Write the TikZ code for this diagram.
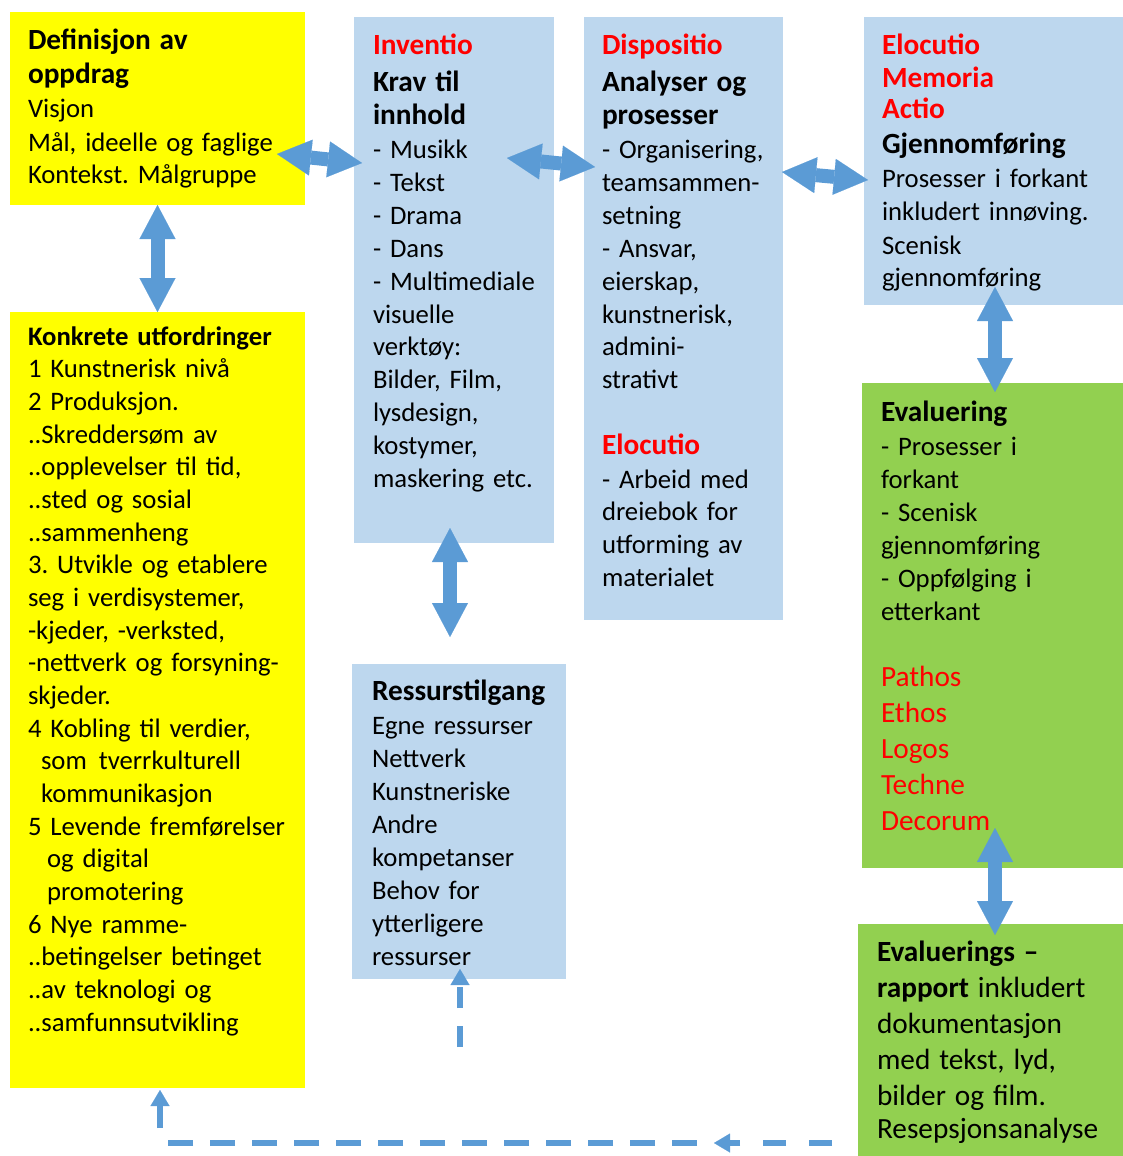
\documentclass[tikz,border=0pt]{standalone}
\usepackage{fontspec}
\setmainfont{Carlito}[WordSpace=0.85]
\usetikzlibrary{arrows.meta,calc}
\frenchspacing

\definecolor{yel}{HTML}{FFFF00}
\definecolor{lblue}{HTML}{BDD7EE}
\definecolor{lgreen}{HTML}{92D050}
\definecolor{redc}{HTML}{FF0000}
\definecolor{arrowblue}{HTML}{5B9BD5}

% line spacing used by every font switch inside a text block
\newcommand\lsk{33pt}
\newcommand\bxfont{\fontsize{26.7pt}{\lsk}\selectfont\mdseries}
\newcommand\hdsize{\fontsize{29.3pt}{\lsk}\selectfont\mdseries}
\newcommand\hdfont{\hdsize\bfseries}
\newcommand\rd[1]{{\color{redc}#1}}

\tikzset{
  boxbase/.style={inner sep=0pt, outer sep=0pt, anchor=north west},
  ybox/.style={boxbase, fill=yel},
  bbox/.style={boxbase, fill=lblue},
  gbox/.style={boxbase, fill=lgreen},
  txt/.style={inner sep=0pt, outer sep=0pt, anchor=base west, align=left, font=\bxfont},
  dblarrow/.style={draw=arrowblue, line width=14pt,
    arrows={Triangle[length=34pt,width=36pt,line width=0.1pt]-Triangle[length=34pt,width=36pt,line width=0.1pt]}},
  dashline/.style={draw=arrowblue, line width=5.5pt, dash pattern=on 25pt off 17pt},
  dasharrow/.style={dashline, arrows={-Triangle[length=16pt,width=19pt,line width=0.1pt]}},
}

\begin{document}
\begin{tikzpicture}[x=1pt,y=-1pt]
\useasboundingbox (0,0) rectangle (1123,1156);

% ---- boxes ----
\node[ybox, minimum width=295pt, minimum height=193pt] (def)  at (10,12)  {};
\node[ybox, minimum width=295pt, minimum height=776pt] (konk) at (10,312) {};
\node[bbox, minimum width=200pt, minimum height=526pt] (inv)  at (354,17) {};
\node[bbox, minimum width=199pt, minimum height=603pt] (disp) at (584,17) {};
\node[bbox, minimum width=259pt, minimum height=288pt] (eloc) at (864,17) {};
\node[gbox, minimum width=261pt, minimum height=485pt] (eval) at (862,383) {};
\node[gbox, minimum width=265pt, minimum height=232pt] (rapp) at (858,924) {};
\node[bbox, minimum width=214pt, minimum height=315pt] (res)  at (352,664) {};

% ---- texts ----
\node[txt, text width=275pt] (tdef) at (28,50) {\renewcommand\lsk{33.5pt}\hdfont
Definisjon av\\[0.5pt]
oppdrag\\
\bxfont Visjon\\
Mål, ideelle og faglige\\
Kontekst. Målgruppe};

\node[txt, text width=275pt] (tkonk) at (28,345) {\renewcommand\lsk{32.67pt}\bxfont
\textbf{Konkrete utfordringer}\\
1 Kunstnerisk nivå\\
2 Produksjon.\\
..Skreddersøm av\\
..opplevelser til tid,\\
..sted og sosial\\
..sammenheng\\
3. Utvikle og etablere\\
seg i verdisystemer,\\
-kjeder, -verksted,\\
-nettverk og forsyning-\\
skjeder.\\
4 Kobling til verdier,\\
\hspace*{13pt}som\hspace{12pt}tverrkulturell\\
\hspace*{13pt}kommunikasjon\\
5 Levende fremførelser\\
\hspace*{19pt}og digital\\
\hspace*{19pt}promotering\\
6 Nye ramme-\\
..betingelser betinget\\
..av teknologi og\\
..samfunnsutvikling};

\node[txt, text width=180pt] (tinv) at (373,55) {\renewcommand\lsk{32.8pt}%
\rd{\hdfont Inventio}\\[3.2pt]
\hdfont Krav til\\[1.2pt]
innhold\\[1.2pt]
\bxfont - Musikk\\
- Tekst\\
- Drama\\
- Dans\\
- Multimediale\\
visuelle\\
verktøy:\\
Bilder, Film,\\
lysdesign,\\
kostymer,\\
maskering etc.};

\node[txt, text width=180pt] (tdisp) at (602,55) {\renewcommand\lsk{32.8pt}%
\rd{\hdfont Dispositio}\\[3.2pt]
\hdfont Analyser og\\[1.2pt]
prosesser\\[1.2pt]
\bxfont - Organisering,\\
teamsammen-\\
setning\\
- Ansvar,\\
eierskap,\\
kunstnerisk,\\
admini-\\
strativt\\[32.8pt]
\rd{\hdfont Elocutio}\\[1.2pt]
- Arbeid med\\
dreiebok for\\
utforming av\\
materialet};

\node[txt, text width=240pt] (teloc) at (882,55) {\renewcommand\lsk{33pt}%
\rd{\hdfont Elocutio}\\
\rd{\hdfont Memoria}\\[-2pt]
\rd{\hdfont Actio}\\[2pt]
\hdfont Gjennomføring\\[1pt]
\bxfont Prosesser i forkant\\
inkludert innøving.\\
Scenisk\\
gjennomføring};

\node[txt, text width=240pt] (teval) at (881,421) {\renewcommand\lsk{33pt}%
\hdfont Evaluering\\[1pt]
\bxfont - Prosesser i\\
forkant\\
- Scenisk\\
gjennomføring\\
- Oppfølging i\\
etterkant\\[33pt]
\rd{\hdsize Pathos}\\[3pt]
\rd{\hdsize Ethos}\\[3pt]
\rd{\hdsize Logos}\\[3pt]
\rd{\hdsize Techne}\\[3pt]
\rd{\hdsize Decorum}};

\node[txt, text width=192pt] (tres) at (372,700) {\renewcommand\lsk{33pt}%
\hdfont Ressurstilgang\\[1pt]
\bxfont Egne ressurser\\
Nettverk\\
Kunstneriske\\
Andre\\
kompetanser\\
Behov for\\
ytterligere\\
ressurser};

\node[txt, text width=245pt] (trapp) at (877,961) {\renewcommand\lsk{36pt}\hdsize
\textbf{Evaluerings –}\\
\textbf{rapport} inkludert\\
dokumentasjon\\
med tekst, lyd,\\
bilder og film.\\
Resepsjonsanalyse};

% ---- two-way block arrows ----
\draw[dblarrow] ($(def.north east)+(-28,142)$)  -- ($(inv.north west)+(8,146)$);
\draw[dblarrow] ($(inv.north east)+(-47,141)$)  -- ($(disp.north west)+(11,150)$);
\draw[dblarrow] ($(disp.north east)+(-1,155)$)  -- ($(eloc.north west)+(4,163)$);
\draw[dblarrow] (def.south) -- (konk.north);
\draw[dblarrow] ($(inv.south west)+(96,-15)$)   -- ($(res.north west)+(98,-27)$);
\draw[dblarrow] ($(eloc.south west)+(131,-18)$) -- ($(eval.north west)+(133,9)$);
\draw[dblarrow] ($(eval.south west)+(133,-40)$) -- ($(rapp.north west)+(137,11)$);

% ---- dashed feedback arrows ----
\coordinate (resfeed) at (460,1047);
\draw[dasharrow, dash pattern=on 21pt off 18pt] (resfeed) -- ($(res.south west)+(108,-10)$);

\coordinate (rapfeed) at (832,1143);
\coordinate (midtip)  at (714,1143);
\coordinate (corner)  at (160,1143);
\draw[dasharrow, dash pattern=on 23pt off 23pt] (rapfeed) -- (midtip);
\draw[dashline, dash phase=25pt] (midtip) -- (corner);
\draw[dasharrow, dash phase=27pt] (corner) -- ($(konk.south)+(2.5,2)$);
\end{tikzpicture}
\end{document}
